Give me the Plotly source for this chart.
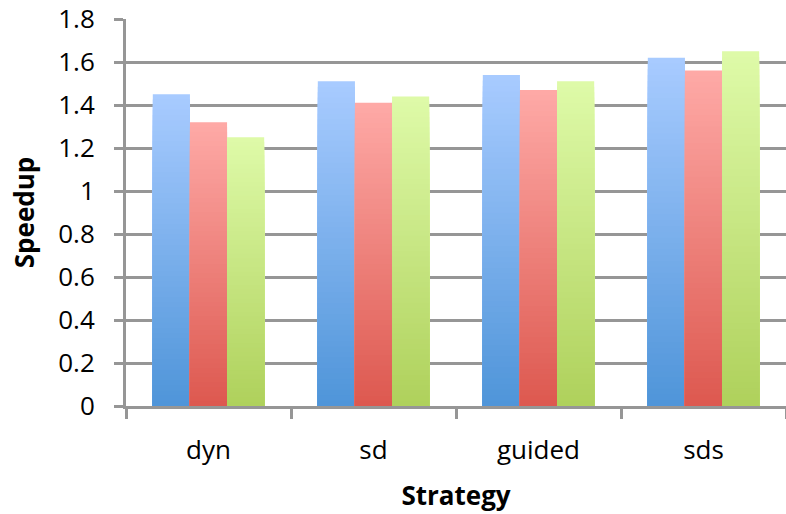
import plotly.graph_objects as go

# Speedup per scheduling strategy, three runs per strategy
strategies = ["dyn", "sd", "guided", "sds"]
run_blue = [1.45, 1.51, 1.54, 1.62]
run_red = [1.32, 1.41, 1.47, 1.56]
run_green = [1.25, 1.44, 1.51, 1.65]

y_ticks = [0, 0.2, 0.4, 0.6, 0.8, 1.0, 1.2, 1.4, 1.6, 1.8]
y_tick_text = ["0", "0.2", "0.4", "0.6", "0.8", "1", "1.2", "1.4", "1.6", "1.8"]

# (values, colour at bar top, colour at bar base)
series = [
    (run_blue, (168, 203, 255), (79, 149, 217)),
    (run_red, (254, 169, 166), (221, 89, 80)),
    (run_green, (222, 250, 168), (175, 209, 92)),
]

STEPS = 60  # bands used to build the vertical colour gradient


def mix(c_top, c_bottom, t):
    r, g, b = (round(a + (b_ - a) * t) for a, b_ in zip(c_top, c_bottom))
    return f"rgb({r},{g},{b})"


fig = go.Figure()
for idx, (vals, top, bottom) in enumerate(series):
    for k in range(STEPS):
        frac = (STEPS - k) / STEPS
        fig.add_trace(go.Bar(
            x=strategies,
            y=[v * frac for v in vals],
            offsetgroup=str(idx),
            marker=dict(color=mix(top, bottom, k / (STEPS - 1)), line=dict(width=0)),
            showlegend=False,
            hoverinfo="skip" if k else "x+y",
        ))

font_family = "Open Sans"
grid_col = "#969696"

fig.update_layout(
    width=786, height=514,
    margin=dict(l=126, r=0, t=19, b=108),
    paper_bgcolor="white", plot_bgcolor="white",
    barmode="group", bargap=0.325, bargroupgap=0,
    font=dict(family=font_family, size=26, color="#000000"),
    showlegend=False,
)
fig.update_yaxes(
    range=[0, 1.8], tickvals=y_ticks, ticktext=y_tick_text,
    showgrid=True, gridcolor=grid_col, gridwidth=3,
    zeroline=False,
    showline=True, linecolor=grid_col, linewidth=3,
    ticks="outside", ticklen=9, tickwidth=3, tickcolor=grid_col,
    ticklabelstandoff=14,
    title=dict(text="<b>Speedup</b>", standoff=17, font=dict(size=26)),
)
fig.update_xaxes(
    showgrid=False, zeroline=False,
    showline=True, linecolor=grid_col, linewidth=3,
    ticks="outside", ticklen=10, tickwidth=3, tickcolor=grid_col,
    tickson="boundaries",
    ticklabelstandoff=19,
    title=dict(text="<b>Strategy</b>", standoff=21, font=dict(size=26)),
)

fig.write_html("out.html")
